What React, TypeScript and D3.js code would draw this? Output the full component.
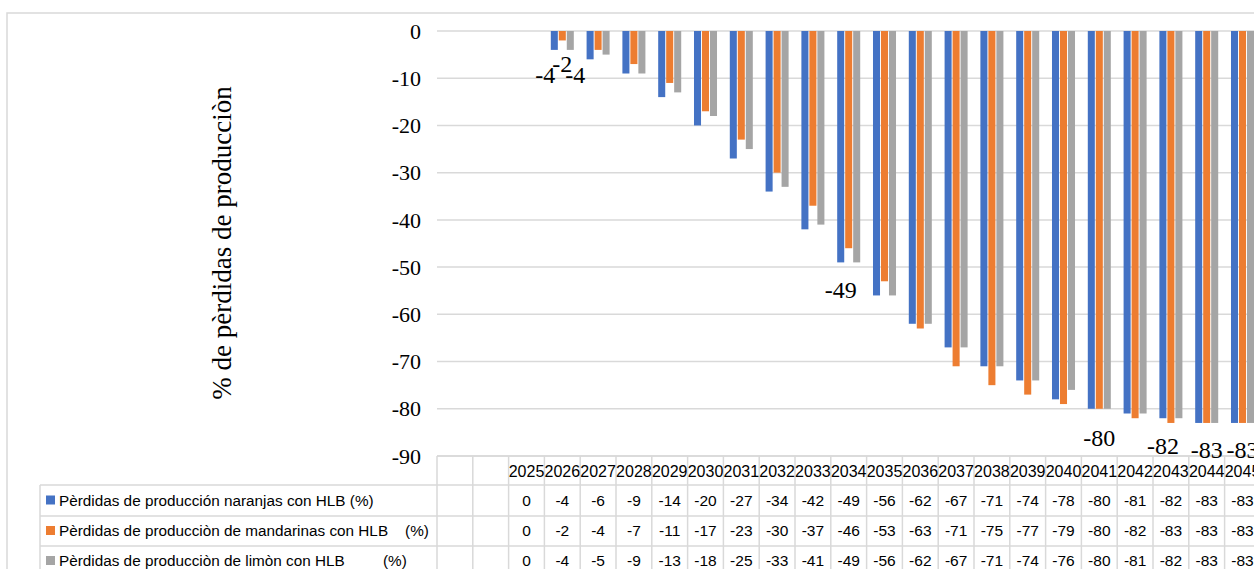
import React from "react";
import * as d3 from "d3";

const categories = ["", "", "2025", "2026", "2027", "2028", "2029", "2030", "2031", "2032", "2033", "2034", "2035", "2036", "2037", "2038", "2039", "2040", "2041", "2042", "2043", "2044", "2045"];
const naranjas: (number | null)[] = [null, null, 0, -4, -6, -9, -14, -20, -27, -34, -42, -49, -56, -62, -67, -71, -74, -78, -80, -81, -82, -83, -83];
const mandarinas: (number | null)[] = [null, null, 0, -2, -4, -7, -11, -17, -23, -30, -37, -46, -53, -63, -71, -75, -77, -79, -80, -82, -83, -83, -83];
const limon: (number | null)[] = [null, null, 0, -4, -5, -9, -13, -18, -25, -33, -41, -49, -56, -62, -67, -71, -74, -76, -80, -81, -82, -83, -83];
const seriesNames = [
  "Pèrdidas de producción naranjas con HLB (%)",
  "Pèrdidas de producciòn de mandarinas con HLB    (%)",
  "Pèrdidas de producciòn de limòn con HLB         (%)",
];
const seriesColors = ["#4472C4", "#ED7D31", "#A5A5A5"];
const yTicks = [0, -10, -20, -30, -40, -50, -60, -70, -80, -90];
const yTitle = "% de pèrdidas de producciòn";

// data labels shown on the chart
const labelYears = ["2026", "2026", "2026", "2034", "2041", "2043", "2044", "2045"];
const labelSeries = [0, 1, 2, 0, 1, 0, 1, 1];
const labelNudgeX = [-9, 0, 5, 0, 0, 0, 0, 0];
const labelNudgeY = [33, 32, 33, 36, 37, 36, 35, 35];

const series = [naranjas, mandarinas, limon];

export default function App() {
  const W = 1254, H = 569;
  const plotLeft = 437, plotTop = 31, plotBottom = 456;
  const colW = 35.8;
  const x0 = d3.scaleBand<number>().domain(categories.map((_, i) => i)).range([plotLeft, plotLeft + categories.length * colW]).padding(0);
  const x1 = d3.scaleBand<number>().domain([0, 1, 2]).range([0, x0.bandwidth()]).paddingInner(0.12).paddingOuter(0.8);
  const y = d3.scaleLinear().domain([0, -90]).range([plotTop, plotBottom]);
  const grid = "#d9d9d9";
  const rowTops = [456, 485, 516, 546, 576];
  const legendLeft = 40;
  const sans = "'Liberation Sans', Arial, sans-serif";
  const serif = "'Liberation Serif', 'Times New Roman', serif";

  return (
    <svg width={W} height={H} style={{ position: "absolute", left: 0, top: 0, background: "#fff" }}>
      <rect x={7} y={13} width={W + 10} height={H + 10} fill="#fff" stroke={grid} strokeWidth={1.5} />
      {/* gridlines */}
      {yTicks.map((t) => (
        <line key={t} x1={plotLeft} x2={W + 5} y1={y(t)} y2={y(t)} stroke={grid} strokeWidth={1.5} />
      ))}
      {/* y tick labels */}
      {yTicks.map((t) => (
        <text key={"l" + t} x={421} y={y(t)} dy="0.35em" textAnchor="end" fontFamily={serif} fontSize={22} fill="#000">
          {t}
        </text>
      ))}
      <text transform={`translate(222,243) rotate(-90)`} textAnchor="middle" dy="0.35em" fontFamily={serif} fontSize={27} fill="#000">
        {yTitle}
      </text>
      {/* bars */}
      {series.map((s, si) =>
        s.map((v, ci) =>
          v === null || v === 0 ? null : (
            <rect key={si + "-" + ci} x={(x0(ci) as number) + (x1(si) as number)} y={y(0)} width={x1.bandwidth()} height={y(v) - y(0)} fill={seriesColors[si]} />
          )
        )
      )}
      {/* data table */}
      {rowTops.map((r, i) => (
        <line key={"h" + i} x1={i === 0 ? plotLeft : legendLeft} x2={W + 5} y1={r} y2={r} stroke={grid} strokeWidth={1.5} />
      ))}
      <line x1={legendLeft} x2={legendLeft} y1={rowTops[1]} y2={H + 5} stroke={grid} strokeWidth={1.5} />
      {categories.map((_, ci) => (
        <line key={"v" + ci} x1={x0(ci) as number} x2={x0(ci) as number} y1={rowTops[0]} y2={H + 5} stroke={grid} strokeWidth={1.5} />
      ))}
      {categories.map((c, ci) => (
        <text key={"c" + ci} x={(x0(ci) as number) + colW / 2} y={(rowTops[0] + rowTops[1]) / 2 + 1} dy="0.35em" textAnchor="middle" fontFamily={sans} fontSize={16} fill="#000">
          {c}
        </text>
      ))}
      {series.map((s, si) => (
        <g key={"row" + si}>
          <rect x={46} y={(rowTops[si + 1] + rowTops[si + 2]) / 2 - 5} width={9} height={9} fill={seriesColors[si]} />
          <text x={59} y={(rowTops[si + 1] + rowTops[si + 2]) / 2} dy="0.35em" fontFamily={sans} fontSize={15.3} fill="#000" style={{ whiteSpace: "pre" }}>
            {seriesNames[si]}
          </text>
          {s.map((v, ci) =>
            v === null ? null : (
              <text key={ci} x={(x0(ci) as number) + colW / 2} y={(rowTops[si + 1] + rowTops[si + 2]) / 2} dy="0.35em" textAnchor="middle" fontFamily={sans} fontSize={15.5} fill="#000">
                {v}
              </text>
            )
          )}
        </g>
      ))}
      {/* data labels */}
      {labelYears.map((yr, i) => {
        const ci = categories.indexOf(yr);
        const si = labelSeries[i];
        const v = series[si][ci] as number;
        const cx = (x0(ci) as number) + (x1(si) as number) + x1.bandwidth() / 2 + labelNudgeX[i];
        return (
          <text key={"dl" + i} x={cx} y={y(v) + labelNudgeY[i]} textAnchor="middle" fontFamily={serif} fontSize={24} fill="#000">
            {v}
          </text>
        );
      })}
    </svg>
  );
}
